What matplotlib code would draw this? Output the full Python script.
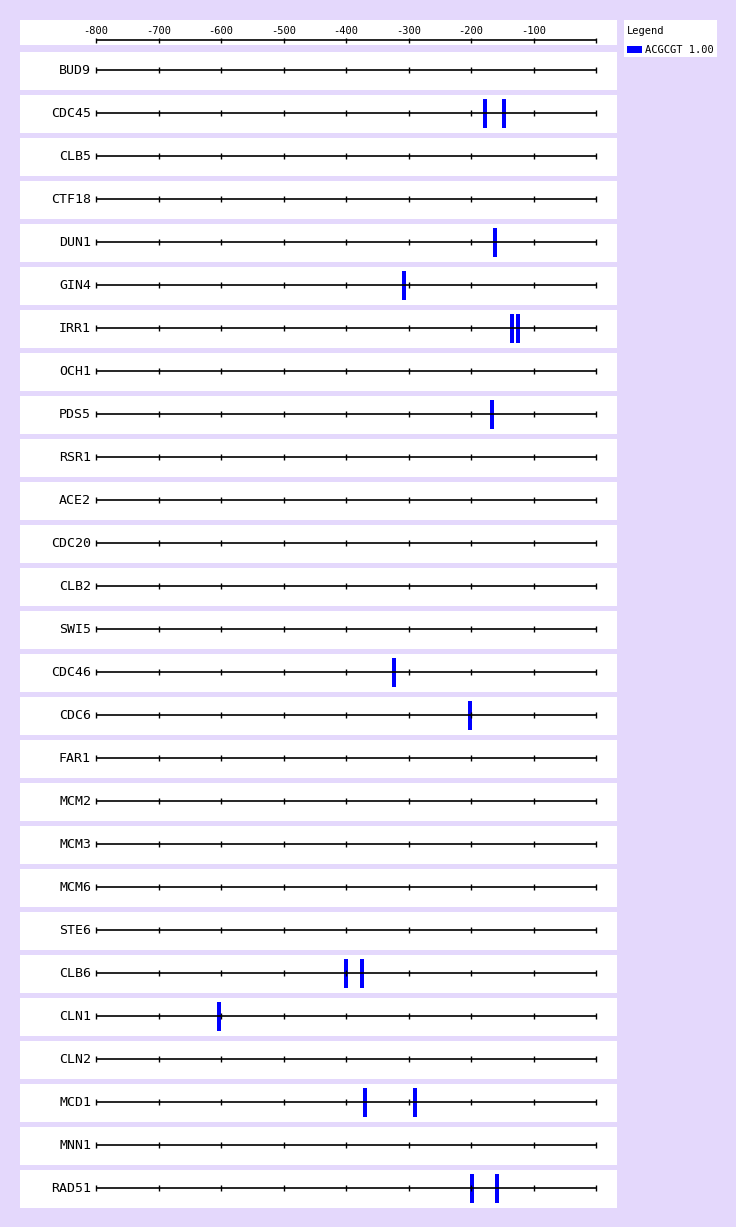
import matplotlib
matplotlib.use('Agg')
import matplotlib.pyplot as plt
import numpy as np

genes = ['BUD9', 'CDC45', 'CLB5', 'CTF18', 'DUN1', 'GIN4', 'IRR1', 'OCH1', 'PDS5',
         'RSR1', 'ACE2', 'CDC20', 'CLB2', 'SWI5', 'CDC46', 'CDC6', 'FAR1', 'MCM2',
         'MCM3', 'MCM6', 'STE6', 'CLB6', 'CLN1', 'CLN2', 'MCD1', 'MNN1', 'RAD51']
sites = [[], [-178, -147], [], [], [-161], [-307], [-134, -125], [], [-166],
         [], [], [], [], [], [-323], [-202], [], [],
         [], [], [], [-400, -374], [-603], [], [-370, -290], [], [-198, -158]]
tick_pos = list(range(-800, 1, 100))
tick_labels = ['-800', '-700', '-600', '-500', '-400', '-300', '-200', '-100']
motif = 'ACGCGT 1.00'

W, H = 736, 1227
BG = '#E4D8FC'
BLUE = '#0000FF'
MONO = 'DejaVu Sans Mono'

# pixel layout: -800 at x=96, 0 at x=596, panel from x=20 to 617
px_per_unit = 500 / 800
xmin = -800 - (96 - 20) / px_per_unit
xmax = 0 + (617 - 596) / px_per_unit


def add_panel(fig, x0, y0, w, h):
    ax = fig.add_axes([x0 / W, 1 - (y0 + h) / H, w / W, h / H])
    ax.set_facecolor('white')
    for s in ax.spines.values():
        s.set_visible(False)
    ax.set_xticks([])
    ax.set_yticks([])
    return ax


def main():
    fig = plt.figure(figsize=(W / 100, H / 100), dpi=100)
    fig.patch.set_facecolor(BG)

    # верхняя шкала
    ax = add_panel(fig, 20, 20, 597, 25)
    ax.set_xlim(xmin, xmax)
    ax.set_ylim(-12.5, 12.5)
    ax.hlines(-7.5, -800, 0, color='black', lw=1.2)
    ax.vlines(tick_pos, -10, -5, color='black', lw=1)
    for t, lab in zip(tick_pos, tick_labels):
        ax.text(t, 1, lab, ha='center', va='center', fontsize=7.5, family=MONO)

    # строки генов
    for i, (g, s) in enumerate(zip(genes, sites)):
        ax = add_panel(fig, 20, 52 + 43 * i, 597, 38)
        ax.set_xlim(xmin, xmax)
        ax.set_ylim(-19, 19)
        ax.hlines(0.7, -800, 0, color='black', lw=1.2)
        ax.vlines(tick_pos, -2.3, 3.7, color='black', lw=1)
        ax.text(-800 - 5 / px_per_unit, 0.7, g, ha='right', va='center',
                fontsize=9.5, family=MONO)
        if s:
            ax.bar(s, 29, width=3.8 / px_per_unit, bottom=0.7 - 14.5,
                   color=BLUE, linewidth=0)

    # легенда
    ax = add_panel(fig, 624, 20, 93, 37)
    ax.set_xlim(0, 93)
    ax.set_ylim(37, 0)
    ax.text(3, 11, 'Legend', ha='left', va='center', fontsize=7.5, family=MONO)
    ax.add_patch(plt.Rectangle((3, 26), 15, 7, color=BLUE, lw=0))
    ax.text(21, 30, motif, ha='left', va='center', fontsize=7.5, family=MONO)

    fig.savefig('out.png', dpi=100, facecolor=BG)


if __name__ == '__main__':
    main()
